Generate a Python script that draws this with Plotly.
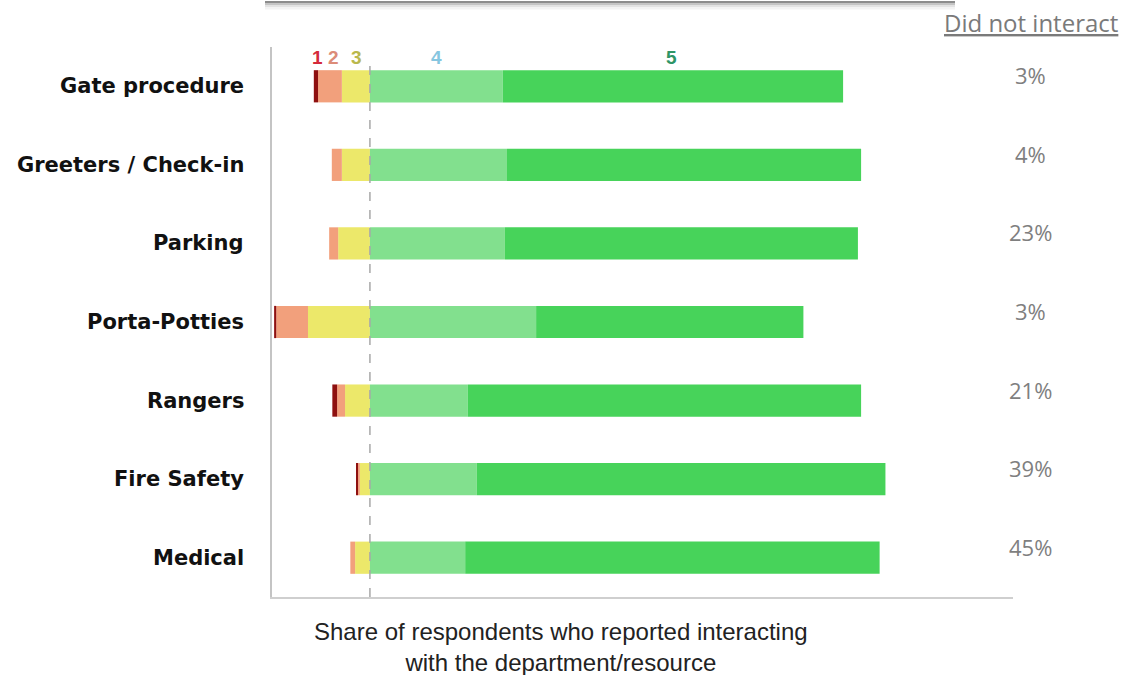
import plotly.graph_objects as go

# survey rating shares (% of respondents who interacted), rating 1..5
categories = ["Gate procedure", "Greeters / Check-in", "Parking", "Porta-Potties",
              "Rangers", "Fire Safety", "Medical"]
rating_1 = [0.8, 0.0, 0.0, 0.4, 0.9, 0.3, 0.0]
rating_2 = [4.5, 1.9, 1.7, 6.0, 1.5, 0.4, 0.9]
rating_3 = [5.3, 5.3, 6.0, 11.7, 4.7, 1.9, 2.8]
rating_4 = [25.1, 25.9, 25.5, 31.4, 18.5, 20.2, 18.0]
rating_5 = [64.3, 66.9, 66.7, 50.5, 74.3, 77.2, 78.3]
did_not_interact = ["3%", "4%", "23%", "3%", "21%", "39%", "45%"]

W, H = 1121, 675
L, R, T, B = 272, 1013, 47, 597   # plot area in pixels


def px_x(p):
    return (p - L) / (R - L)


def px_y(p):
    return (B - p) / (B - T)


fig = go.Figure()
# negative side: neutral first so it sits next to zero
for vals, col in [(rating_3, "#ECE86A"), (rating_2, "#F2A07C"), (rating_1, "#8E1010")]:
    fig.add_trace(go.Bar(y=categories, x=[-v for v in vals], orientation="h",
                         marker=dict(color=col, line_width=0), showlegend=False))
for vals, col in [(rating_4, "#82E08E"), (rating_5, "#47D35A")]:
    fig.add_trace(go.Bar(y=categories, x=vals, orientation="h",
                         marker=dict(color=col, line_width=0), showlegend=False))

fig.update_layout(
    width=W, height=H, barmode="relative", bargap=0.59,
    margin=dict(l=L, r=W - R, t=T, b=H - B),
    plot_bgcolor="white", paper_bgcolor="white",
    font=dict(family="Liberation Sans"),
)
fig.update_xaxes(range=[-18.5, 121.5], showticklabels=False, showgrid=False,
                 zeroline=False, showline=True, linecolor="#cfcfcf", linewidth=2)
fig.update_yaxes(autorange="reversed", showticklabels=False, showgrid=False,
                 zeroline=False, showline=True, linecolor="#c4c4c4", linewidth=2)

# dashed zero line
fig.add_shape(type="line", xref="x", yref="paper", x0=0, x1=0, y0=0, y1=0.97,
              line=dict(color="#a8a8a8", width=1.5, dash="dash"))

# category labels
for c in categories:
    fig.add_annotation(x=px_x(246), y=c, xref="paper", yref="y", text=c,
                       showarrow=False, xanchor="right", yanchor="middle",
                       font=dict(family="DejaVu Sans", size=21, color="#111", weight="bold"))

# did not interact column
fig.add_annotation(x=px_x(1120), y=px_y(22), xref="paper", yref="paper",
                   text="Did not interact", showarrow=False, xanchor="right", yanchor="middle",
                   font=dict(family="Open Sans", size=24, color="#7a7a7a", lineposition="under"))
for c, t in zip(categories, did_not_interact):
    fig.add_annotation(x=px_x(1030), y=c, xref="paper", yref="y", yshift=11, text=t,
                       showarrow=False, xanchor="center", yanchor="middle",
                       font=dict(family="Open Sans", size=22, color="#7f7f7f"))

# rating header
for lab, xp, col in [("1", 317, "#D42A3A"), ("2", 333, "#DC8C78"), ("3", 356, "#B9B84C"),
                     ("4", 436, "#86C6E0"), ("5", 671, "#2F9566")]:
    fig.add_annotation(x=px_x(xp), y=px_y(57), xref="paper", yref="paper", text="<b>" + lab + "</b>",
                       showarrow=False, xanchor="center", yanchor="middle",
                       font=dict(family="Liberation Sans", size=19, color=col))

# axis caption
fig.add_annotation(x=px_x(561), y=px_y(647), xref="paper", yref="paper",
                   text="Share of respondents who reported interacting<br>with the department/resource",
                   showarrow=False, xanchor="center", yanchor="middle",
                   font=dict(family="Liberation Sans", size=24, color="#222"))

# cropped box edge at the top
for yp, col, w in [(8, "#f3f3f3", 3), (6, "#e2e2e2", 2), (4, "#c4c4c4", 2), (2, "#8c8c8c", 2)]:
    fig.add_shape(type="line", xref="paper", yref="paper", x0=px_x(265), x1=px_x(955),
                  y0=px_y(yp), y1=px_y(yp), line=dict(color=col, width=w))

fig.write_html("out.html", config={"displayModeBar": False},
               post_script="document.body.style.margin='0';"
                           "document.body.style.overflow='hidden';")
